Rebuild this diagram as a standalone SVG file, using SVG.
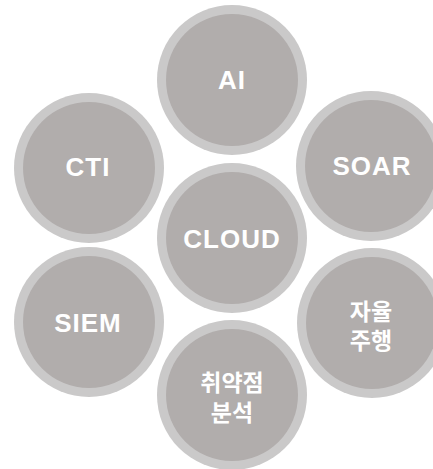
<svg xmlns="http://www.w3.org/2000/svg" width="433" height="469" viewBox="0 0 433 469">
<style>
.ring{fill:#cac9c9}
.core{fill:#b1adac}
.t{font-family:"Liberation Sans",Arial,sans-serif;font-weight:bold;font-size:26px;letter-spacing:1px;fill:#ffffff;text-anchor:middle}
.k{font-family:"Noto Sans CJK KR","Noto Sans",sans-serif;font-weight:bold;font-size:23px;fill:#ffffff;text-anchor:middle}
</style>
<rect width="433" height="469" fill="#ffffff"/>
<g id="connectors"></g>
<g id="ai"><circle class="ring" cx="232" cy="80" r="75"/><circle class="core" cx="232" cy="80" r="66"/><text class="t" x="232" y="89">AI</text></g>
<g id="soar"><circle class="ring" cx="371" cy="166" r="75"/><circle class="core" cx="371" cy="166" r="66"/><text class="t" x="372" y="175">SOAR</text></g>
<g id="cti"><circle class="ring" cx="89" cy="168" r="75"/><circle class="core" cx="89" cy="168" r="66"/><text class="t" x="88" y="176">CTI</text></g>
<g id="cloud"><circle class="ring" cx="232" cy="238" r="75"/><circle class="core" cx="232" cy="238" r="66"/><text class="t" x="232" y="248">CLOUD</text></g>
<g id="siem"><circle class="ring" cx="89" cy="322" r="75"/><circle class="core" cx="89" cy="322" r="66"/><text class="t" x="88" y="332">SIEM</text></g>
<g id="autonomous"><circle class="ring" cx="372" cy="323" r="75"/><circle class="core" cx="372" cy="323" r="66"/><text class="k" x="371" y="320">자율<tspan x="371" dy="29">주행</tspan></text></g>
<g id="vuln"><circle class="ring" cx="232" cy="395" r="75"/><circle class="core" cx="232" cy="395" r="66"/><text class="k" x="232" y="391">취약점<tspan x="232" dy="30">분석</tspan></text></g>
</svg>
